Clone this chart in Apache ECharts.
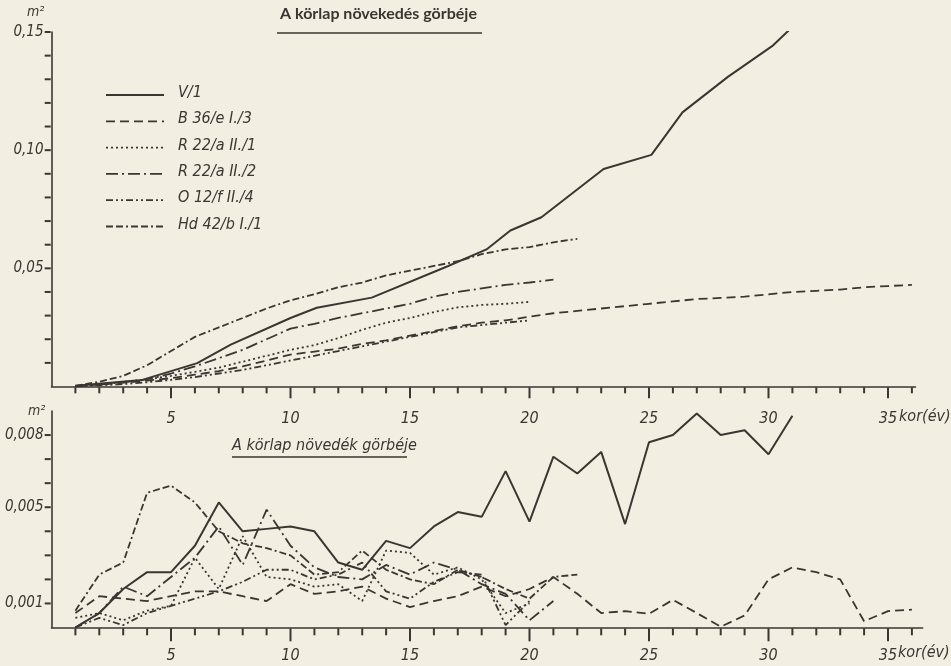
<!DOCTYPE html>
<html><head><meta charset="utf-8">
<script src="https://cdn.jsdelivr.net/npm/echarts@6/dist/echarts.min.js"></script>
<style>html,body{margin:0;padding:0;background:#f2eee2;}#c{width:951px;height:666px;}</style>
</head><body><div id="c"></div>
<script>
// ---- names / ticks ----
const seriesNames = ['V/1', 'B 36/e I./3', 'R 22/a II./1', 'R 22/a II./2', 'O 12/f II./4', 'Hd 42/b I./1'];
const ages = [1,2,3,4,5,6,7,8,9,10,11,12,13,14,15,16,17,18,19,20,21,22,23,24,25,26,27,28,29,30,31,32,33,34,35,36];
const xLabelAges = [5,10,15,20,25,30,35];
const topYTicks = [0.01,0.02,0.03,0.04,0.05,0.06,0.07,0.08,0.09,0.10,0.11,0.12,0.13,0.14,0.15];
const topYLabels = ['0,05', '0,10', '0,15'];
const botYTicks = [0.001,0.002,0.003,0.004,0.005,0.006,0.007,0.008];
const botYLabels = ['0,001', '0,005', '0,008'];

// ---- top chart: basal area growth (m2), cumulative ----
const v1GrowthAges = [1,3.8,6.1,7.5,10,11.1,13.4,16.6,18.2,19.2,20.5,23.1,25.1,26.4,28.3,30.15,31.3];
const v1Growth = [0.0003,0.0028,0.0099,0.0177,0.029,0.0333,0.0376,0.051,0.058,0.066,0.0716,0.092,0.098,0.116,0.131,0.144,0.155];
const b36Growth = [0.0002,0.0008,0.0016,0.0025,0.0035,0.005,0.0065,0.0085,0.011,0.0135,0.0148,0.016,0.018,0.0195,0.0215,0.0235,0.0255,0.027,0.028,0.0295,0.031,0.032,0.033,0.034,0.035,0.036,0.037,0.0375,0.038,0.039,0.040,0.0405,0.041,0.042,0.0425,0.043];
const r22a1Growth = [0.0002,0.001,0.002,0.003,0.0045,0.0062,0.008,0.0105,0.013,0.0155,0.0175,0.0205,0.024,0.027,0.029,0.0315,0.0335,0.0345,0.035,0.0358];
const r22a2Growth = [0.0002,0.0008,0.0018,0.003,0.0055,0.0085,0.012,0.0155,0.02,0.0245,0.0265,0.029,0.031,0.033,0.035,0.038,0.040,0.0415,0.043,0.044,0.0452];
const o12fGrowth = [0.0001,0.0005,0.001,0.0018,0.0028,0.004,0.0055,0.007,0.009,0.011,0.013,0.015,0.017,0.019,0.021,0.023,0.025,0.026,0.027,0.028];
const hd42Growth = [0.0003,0.002,0.0045,0.009,0.015,0.021,0.025,0.029,0.033,0.0365,0.039,0.042,0.044,0.047,0.049,0.051,0.053,0.056,0.058,0.059,0.061,0.0625];

// ---- bottom chart: basal area increment (m2 / year) ----
const v1Incr = [0.0000,0.0006,0.0016,0.0023,0.0023,0.0034,0.0052,0.0040,0.0041,0.0042,0.0040,0.0027,0.0024,0.0036,0.0033,0.0042,0.0048,0.0046,0.0065,0.0044,0.0071,0.0064,0.0073,0.0043,0.0077,0.0080,0.0089,0.0080,0.0082,0.0072,0.0088];
const b36Incr = [0.0006,0.0013,0.0012,0.0011,0.0013,0.0015,0.0015,0.0013,0.0011,0.0018,0.0014,0.0015,0.0017,0.0012,0.00085,0.0011,0.0013,0.0017,0.0013,0.0016,0.0021,0.0014,0.0006,0.00068,0.00057,0.00115,0.0006,0.00003,0.0005,0.0020,0.0025,0.0023,0.0020,0.00026,0.00068,0.00074];
const r22a1Incr = [0.0004,0.0006,0.0003,0.0007,0.0009,0.0029,0.0016,0.0038,0.0021,0.0020,0.0017,0.0018,0.0011,0.0032,0.0031,0.0022,0.0025,0.0020,0.0006,0.0010];
const r22a2Incr = [0.0000,0.0006,0.0017,0.0013,0.0021,0.0029,0.0042,0.0026,0.0049,0.0034,0.0025,0.0021,0.0020,0.0026,0.0022,0.0027,0.0024,0.0018,0.0014,0.0003,0.0011];
const o12fIncr = [0.0000,0.0004,0.0001,0.0006,0.0009,0.0012,0.0015,0.0019,0.0024,0.0024,0.0020,0.0022,0.0027,0.0015,0.0012,0.0019,0.0023,0.0022,0.0001,0.0011];
const hd42Incr = [0.0007,0.0022,0.0027,0.0056,0.0059,0.0052,0.0040,0.0035,0.0033,0.0030,0.0022,0.0023,0.0032,0.0024,0.0020,0.0018,0.0024,0.0021,0.0016,0.0012,0.0021,0.0022];

const ink = '#3b3632';
const labelFont = "'DejaVu Sans Condensed','Liberation Sans Narrow','DejaVu Sans',sans-serif";
const dashes = [null, [9,5], [2,3], [12,4,2,4], [7,3,2,3,2,3], [7,3,7,3,2,3]];
const widths = [2, 1.8, 1.8, 1.8, 1.8, 1.8];
const PX_PER_YEAR = 23.9;
const LEFT = 51.5;
const TICK_W = 2;

function pairs(xs, ys) { return ys.map((v, i) => [xs[i], v]); }
const topData = [pairs(v1GrowthAges, v1Growth), pairs(ages, b36Growth), pairs(ages, r22a1Growth), pairs(ages, r22a2Growth), pairs(ages, o12fGrowth), pairs(ages, hd42Growth)];
const botData = [pairs(ages, v1Incr), pairs(ages, b36Incr), pairs(ages, r22a1Incr), pairs(ages, r22a2Incr), pairs(ages, o12fIncr), pairs(ages, hd42Incr)];

function mkSeries(data, ai) {
  return data.map((d, i) => ({
    name: seriesNames[i], type: 'line', xAxisIndex: ai, yAxisIndex: ai,
    data: d, symbol: 'none', showSymbol: false, animation: false,
    lineStyle: { color: ink, width: widths[i], type: dashes[i] || 'solid' },
    itemStyle: { color: ink }
  }));
}
// tick marks drawn inside thin helper grids that share the data axes' scale
function tickSeries(ai, data, size) {
  return { type: 'scatter', xAxisIndex: ai, yAxisIndex: ai, data: data, symbol: 'rect',
    symbolSize: size, animation: false, silent: true, itemStyle: { color: ink, opacity: 1 } };
}

const lineOn = { show: true, lineStyle: { color: ink, width: 1.6 } };
const labelStyle = { color: ink, fontStyle: 'italic', fontFamily: labelFont };
const tops = [32, 411], heights = [354.5, 216.5], xmax = [36.15, 36.45];
const yMax = [0.15, 0.009], yStep = [0.01, 0.001], yDigits = [2, 3], yLabelSets = [topYLabels, botYLabels];
const shortLens = [6, 7], longLens = [11, 13];

const grids = [], xAxes = [], yAxes = [], tickMarks = [];
// data grids (index 0 and 1)
[0, 1].forEach(c => {
  grids.push({ left: LEFT, top: tops[c], width: xmax[c] * PX_PER_YEAR, height: heights[c] });
  xAxes.push({ gridIndex: c, type: 'value', min: 0, max: xmax[c], interval: 5,
    axisLine: lineOn, axisTick: { show: false }, splitLine: { show: false },
    axisLabel: Object.assign({ margin: c === 0 ? 24 : 20, fontSize: 16,
      formatter: v => xLabelAges.indexOf(Math.round(v * 1000) / 1000) >= 0 ? String(v) : '' }, labelStyle) });
  yAxes.push({ gridIndex: c, type: 'value', min: 0, max: yMax[c], interval: yStep[c],
    axisLine: lineOn, axisTick: { show: false }, splitLine: { show: false },
    axisLabel: Object.assign({ margin: 8, fontSize: 15, formatter: v => {
      const s = v.toFixed(yDigits[c]).replace('.', ',');
      return yLabelSets[c].indexOf(s) >= 0 ? s : '';
    } }, labelStyle) });
});
// helper grids for ticks (x ticks below each x axis, y ticks left of each y axis)
[0, 1].forEach(c => {
  const gx = grids.length;
  const lenMax = longLens[c];
  grids.push({ left: LEFT, top: tops[c] + heights[c] + 0.8, width: xmax[c] * PX_PER_YEAR, height: lenMax });
  xAxes.push({ gridIndex: gx, type: 'value', min: 0, max: xmax[c], show: false });
  yAxes.push({ gridIndex: gx, type: 'value', min: 0, max: lenMax, inverse: true, show: false });
  tickMarks.push(tickSeries(gx, ages.filter(a => xLabelAges.indexOf(a) < 0).map(a => [a, shortLens[c] / 2]), [TICK_W, shortLens[c]]));
  tickMarks.push(tickSeries(gx, xLabelAges.map(a => [a, lenMax / 2]), [TICK_W, lenMax]));

  const gy = grids.length;
  grids.push({ left: LEFT - 6.8, top: tops[c], width: 6, height: heights[c] });
  xAxes.push({ gridIndex: gy, type: 'value', min: 0, max: 6, show: false });
  yAxes.push({ gridIndex: gy, type: 'value', min: 0, max: yMax[c], show: false });
  tickMarks.push(tickSeries(gy, (c === 0 ? topYTicks : botYTicks).map(v => [3, v]), [6, TICK_W]));
});

// key (legend) drawn as graphic: sample line + name per series
const keyItems = [];
seriesNames.forEach((n, i) => {
  const y = 95 + i * 26.3;
  keyItems.push({ type: 'line', shape: { x1: 106, y1: y, x2: 164, y2: y },
    style: { stroke: ink, lineWidth: widths[i], lineDash: dashes[i] } });
  keyItems.push({ type: 'text', left: 178, top: y - 10,
    style: { text: n, fill: ink, fontSize: 16, fontStyle: 'italic', fontFamily: labelFont } });
});

const chart = echarts.init(document.getElementById('c'));
chart.setOption({
  animation: false,
  grid: grids,
  xAxis: xAxes,
  yAxis: yAxes,
  graphic: [
    { type: 'text', left: 280, top: 6, style: { text: 'A körlap növekedés görbéje', fill: ink, fontSize: 16, fontWeight: 'bold', fontFamily: 'Lato, "Open Sans", sans-serif' } },
    { type: 'line', shape: { x1: 277, y1: 33, x2: 482, y2: 33 }, style: { stroke: ink, lineWidth: 1.5 } },
    { type: 'text', left: 232, top: 438, style: { text: 'A körlap növedék görbéje', fill: ink, fontSize: 16, fontStyle: 'italic', fontFamily: labelFont } },
    { type: 'line', shape: { x1: 232, y1: 457, x2: 407, y2: 457 }, style: { stroke: ink, lineWidth: 1.5 } },
    { type: 'text', left: 27, top: 5, style: { text: 'm²', fill: ink, fontSize: 14, fontStyle: 'italic', fontFamily: labelFont } },
    { type: 'text', left: 28, top: 404, style: { text: 'm²', fill: ink, fontSize: 14, fontStyle: 'italic', fontFamily: labelFont } },
    { type: 'text', left: 899, top: 409, style: { text: 'kor(év)', fill: ink, fontSize: 16, fontStyle: 'italic', fontFamily: labelFont } },
    { type: 'text', left: 898, top: 645, style: { text: 'kor(év)', fill: ink, fontSize: 16, fontStyle: 'italic', fontFamily: labelFont } }
  ].concat(keyItems),
  series: mkSeries(topData, 0).concat(mkSeries(botData, 1)).concat(tickMarks)
});
</script></body></html>
